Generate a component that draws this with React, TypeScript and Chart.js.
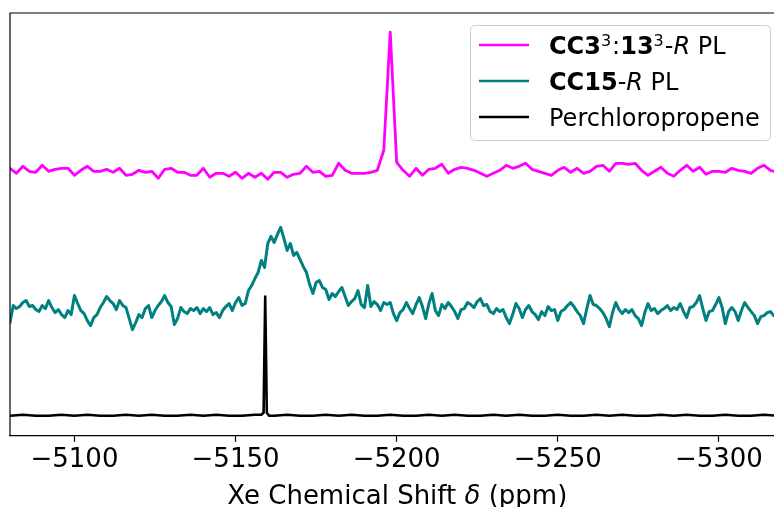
import React, { useEffect, useRef } from 'react';
import { Chart, registerables } from 'chart.js';

Chart.register(...registerables);

// Sampling grids (ppm), left to right
const MAGENTA_START = -5080;
const MAGENTA_STEP = 2;
const TEAL_START = -5080;
const TEAL_STEP = 1;

// CC3^3:13^3-R PL (magenta), intensity in arbitrary units
const magentaValues = [
  267, 262, 269, 264, 263, 270, 264, 266, 267, 267,
  260, 265, 269, 264, 264, 266, 263, 267, 260, 261,
  265, 263, 264, 257, 266, 267, 263, 263, 260, 260,
  267, 258, 262, 262, 259, 263, 257, 262, 258, 262,
  256, 263, 263, 258, 261, 262, 269, 263, 264, 259,
  260, 272, 265, 262, 262, 262, 263, 265, 285, 403,
  273, 265, 259, 267, 260, 266, 267, 271, 262, 266,
  268, 267, 265, 262, 259, 262, 265, 270, 267, 269,
  272, 266, 264, 262, 260, 265, 268, 263, 267, 262,
  264, 269, 270, 264, 272, 272, 271, 272, 265, 260,
  264, 268, 262, 259, 265, 270, 264, 268, 261, 264,
  264, 263, 267, 265, 264, 262, 267, 270, 265, 263,
];

// CC15-R PL (teal)
const tealValues = [
  113, 130, 127, 129, 133, 135, 129, 130, 126, 124,
  130, 127, 135, 128, 123, 126, 121, 118, 125, 121,
  140, 132, 125, 122, 115, 110, 118, 121, 128, 133,
  139, 135, 132, 126, 135, 130, 128, 117, 106, 113,
  121, 118, 127, 130, 118, 125, 130, 134, 140, 133,
  129, 111, 117, 128, 124, 122, 127, 125, 128, 122,
  127, 124, 128, 121, 123, 118, 125, 129, 132, 125,
  133, 138, 130, 132, 145, 150, 157, 163, 175, 168,
  192, 199, 193, 201, 208, 197, 185, 192, 180, 183,
  176, 169, 163, 151, 142, 153, 155, 148, 146, 136,
  142, 139, 144, 148, 139, 130, 134, 137, 145, 131,
  128, 150, 129, 134, 131, 125, 133, 131, 133, 122,
  115, 123, 126, 133, 127, 122, 131, 138, 129, 117,
  132, 142, 125, 120, 131, 127, 133, 129, 124, 117,
  126, 127, 133, 131, 128, 134, 137, 130, 131, 124,
  122, 127, 124, 126, 118, 112, 121, 132, 127, 118,
  126, 130, 124, 121, 116, 124, 120, 129, 125, 126,
  115, 124, 126, 130, 133, 129, 124, 120, 112, 127,
  140, 131, 130, 127, 123, 117, 109, 123, 133, 126,
  122, 126, 123, 126, 120, 117, 110, 123, 132, 125,
  127, 122, 125, 127, 130, 125, 128, 126, 132, 124,
  118, 128, 129, 133, 140, 127, 115, 124, 125, 131,
  138, 128, 112, 124, 128, 124, 115, 125, 133, 128,
  124, 120, 112, 119, 120, 123, 124, 120, 122, 121,
];

// Perchloropropene (black)
const blackShift = [
  -5080, -5084, -5088, -5092, -5096, -5100, -5104, -5108, -5112, -5116,
  -5120, -5124, -5128, -5132, -5136, -5140, -5144, -5148, -5152, -5156,
  -5158, -5158.7, -5159.2, -5159.7, -5160.4,
  -5162, -5166, -5170, -5174, -5178, -5182, -5186, -5190, -5194, -5198,
  -5202, -5206, -5210, -5214, -5218, -5222, -5226, -5230, -5234, -5238,
  -5242, -5246, -5250, -5254, -5258, -5262, -5266, -5270, -5274, -5278,
  -5282, -5286, -5290, -5294, -5298, -5302, -5306, -5310, -5314, -5318,
];
const blackValues = [
  20, 21, 20, 20, 21, 20, 21, 20, 20, 21,
  20, 21, 20, 20, 21, 20, 21, 20, 20, 21,
  21, 23, 139, 23, 20,
  20, 21, 20, 20, 21, 20, 21, 20, 20, 21,
  20, 20, 21, 20, 21, 20, 20, 21, 20, 21,
  20, 20, 21, 20, 20, 21, 20, 21, 20, 20,
  21, 20, 21, 20, 20, 21, 20, 20, 21, 20,
];

const xTicks = [-5100, -5150, -5200, -5250, -5300];
const X_LEFT = -5080;
const X_RIGHT = -5317.1;
const Y_MIN = 0;
const Y_MAX = 422;

const FONT = "'DejaVu Sans', 'Noto Sans', sans-serif";

type Run = { text: string; weight?: string; style?: string; sup?: boolean };

const legendItems: { color: string; runs: Run[] }[] = [
  {
    color: '#ff00ff',
    runs: [
      { text: 'CC3', weight: 'bold' },
      { text: '3', sup: true },
      { text: ':' },
      { text: '13', weight: 'bold' },
      { text: '3', sup: true },
      { text: '-' },
      { text: 'R', style: 'italic' },
      { text: ' PL' },
    ],
  },
  {
    color: '#008080',
    runs: [
      { text: 'CC15', weight: 'bold' },
      { text: '-' },
      { text: 'R', style: 'italic' },
      { text: ' PL' },
    ],
  },
  { color: '#000000', runs: [{ text: 'Perchloropropene' }] },
];

const titleRuns: Run[] = [
  { text: 'Xe Chemical Shift ' },
  { text: 'δ', style: 'italic' },
  { text: ' (ppm)' },
];

function runFont(r: Run, size: number) {
  const s = r.sup ? Math.round(size * 0.68) : size;
  return `${r.style || 'normal'} ${r.weight || 'normal'} ${s}px ${FONT}`;
}

function runsWidth(ctx: CanvasRenderingContext2D, runs: Run[], size: number) {
  let w = 0;
  for (const r of runs) {
    ctx.font = runFont(r, size);
    w += ctx.measureText(r.text).width + (r.sup ? 1 : 0);
  }
  return w;
}

function drawRuns(ctx: CanvasRenderingContext2D, runs: Run[], x: number, y: number, size: number) {
  let cx = x;
  ctx.textBaseline = 'alphabetic';
  ctx.textAlign = 'left';
  for (const r of runs) {
    ctx.font = runFont(r, size);
    const yy = r.sup ? y - size * 0.32 : y;
    ctx.fillText(r.text, cx, yy);
    cx += ctx.measureText(r.text).width + (r.sup ? 1 : 0);
  }
}

const decorPlugin = {
  id: 'decor',
  afterDraw(chart: any) {
    const ctx: CanvasRenderingContext2D = chart.ctx;
    const { left, top, bottom, right } = chart.chartArea;
    ctx.save();
    // spines
    ctx.strokeStyle = '#000';
    ctx.lineWidth = 1.2;
    ctx.beginPath();
    ctx.moveTo(left, bottom);
    ctx.lineTo(left, top);
    ctx.lineTo(right + 20, top);
    ctx.stroke();

    // legend
    const bx = 470.5, by = 25.5, bw = 300, bh = 115, rad = 5;
    ctx.beginPath();
    ctx.moveTo(bx + rad, by);
    ctx.lineTo(bx + bw - rad, by);
    ctx.quadraticCurveTo(bx + bw, by, bx + bw, by + rad);
    ctx.lineTo(bx + bw, by + bh - rad);
    ctx.quadraticCurveTo(bx + bw, by + bh, bx + bw - rad, by + bh);
    ctx.lineTo(bx + rad, by + bh);
    ctx.quadraticCurveTo(bx, by + bh, bx, by + bh - rad);
    ctx.lineTo(bx, by + rad);
    ctx.quadraticCurveTo(bx, by, bx + rad, by);
    ctx.closePath();
    ctx.fillStyle = 'rgba(255,255,255,0.8)';
    ctx.fill();
    ctx.strokeStyle = '#cccccc';
    ctx.lineWidth = 1;
    ctx.stroke();

    legendItems.forEach((item, i) => {
      const ly = 45 + i * 36;
      ctx.strokeStyle = item.color;
      ctx.lineWidth = 2.6;
      ctx.beginPath();
      ctx.moveTo(479, ly);
      ctx.lineTo(529, ly);
      ctx.stroke();
      ctx.fillStyle = '#000';
      drawRuns(ctx, item.runs, 549, ly + 9, 24);
    });

    // x-axis title
    const xs = chart.scales.x;
    const cx = xs.getPixelForValue(-5200.2);
    const tw = runsWidth(ctx, titleRuns, 26);
    ctx.fillStyle = '#000';
    drawRuns(ctx, titleRuns, cx - tw / 2, 504, 26);
    ctx.restore();
  },
};

export default function App() {
  const canvasRef = useRef<HTMLCanvasElement | null>(null);

  useEffect(() => {
    const canvas = canvasRef.current;
    if (!canvas) return;
    const magentaData = magentaValues.map((v, i) => ({ x: MAGENTA_START - i * MAGENTA_STEP, y: v }));
    const tealData = tealValues.map((v, i) => ({ x: TEAL_START - i * TEAL_STEP, y: v }));
    const blackData = blackValues.map((v, i) => ({ x: blackShift[i], y: v }));

    const common = {
      pointRadius: 0,
      borderWidth: 2.7,
      tension: 0,
      fill: false,
      borderJoinStyle: 'round' as const,
      borderCapStyle: 'round' as const,
    };

    const chart = new Chart(canvas, {
      type: 'line',
      data: {
        datasets: [
          { label: 'Perchloropropene', data: blackData, borderColor: '#000000', ...common, borderWidth: 2.6 },
          { label: 'CC15-R PL', data: tealData, borderColor: '#008080', ...common, borderWidth: 3 },
          { label: 'CC3:13-R PL', data: magentaData, borderColor: '#ff00ff', ...common, borderWidth: 2.8 },
        ],
      },
      options: {
        responsive: false,
        animation: false,
        devicePixelRatio: 1,
        layout: { padding: { left: 10, top: 13, right: 0, bottom: 28 } },
        plugins: {
          legend: { display: false },
          tooltip: { enabled: false },
        },
        scales: {
          x: {
            type: 'linear',
            reverse: true,
            min: X_RIGHT,
            max: X_LEFT,
            afterBuildTicks: (scale: any) => {
              scale.ticks = xTicks.map((v) => ({ value: v }));
            },
            ticks: {
              color: '#000',
              padding: 3,
              maxRotation: 0,
              autoSkip: false,
              font: { family: FONT, size: 26 },
              callback: (v: any) => '\u2212' + Math.abs(Number(v)),
            },
            grid: {
              drawOnChartArea: false,
              drawTicks: true,
              tickLength: 6,
              tickColor: '#000',
              tickWidth: 1.2,
            },
            border: { display: true, color: '#000', width: 1.2 },
            title: { display: false },
          },
          y: {
            type: 'linear',
            display: false,
            min: Y_MIN,
            max: Y_MAX,
          },
        },
      },
      plugins: [decorPlugin],
    });
    return () => chart.destroy();
  }, []);

  return (
    <div style={{ position: 'fixed', left: 0, top: 0, width: 774, height: 507, background: '#fff', overflow: 'hidden' }}>
      <canvas ref={canvasRef} width={774} height={507} style={{ width: 774, height: 507, display: 'block' }} />
    </div>
  );
}
